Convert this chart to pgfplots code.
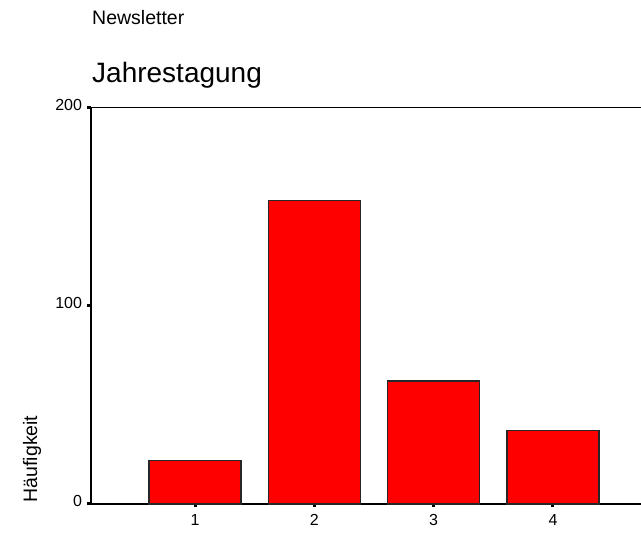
\documentclass[border=0pt]{standalone}
\usepackage{pgfplots}
\pgfplotsset{compat=1.18}
\usepackage{fontspec}
\setmainfont{Liberation Sans}
\begin{document}
\begin{tikzpicture}[x=1pt,y=1pt]
\path[use as bounding box] (0,0) rectangle (641,537);
\node[anchor=base west,inner sep=0pt,font=\fontsize{19.5}{23}\selectfont] at (92,512.5) {Newsletter};
\node[anchor=base west,inner sep=0pt,font=\fontsize{28}{33}\selectfont] at (92,454) {Jahrestagung};
\node[rotate=90,inner sep=0pt,font=\fontsize{19.5}{23}\selectfont] at (32,78) {Häufigkeit};
\begin{axis}[
  at={(91pt,33pt)}, anchor=south west,
  width=550pt, height=396.3pt, scale only axis,
  xmin=0.128, xmax=4.738, ymin=0, ymax=200,
  axis x line*=bottom, axis y line*=left,
  axis line style={-, line width=1.5pt, black},
  xtick={1,2,3,4}, ytick={0,100,200},
  tick align=outside, major tick length=3.5pt,
  tick style={line width=3pt, black},
  ticklabel style={font=\fontsize{16}{19}\selectfont},
  xticklabel style={yshift=-3pt},
  yticklabel style={yshift=3pt, xshift=-2pt},
  /pgf/number format/assume math mode=true,
  clip=false,
]
\addplot[ybar, bar width=0.77, fill={rgb,255:red,255;green,0;blue,0}, draw=black!85, line width=1.3pt]
  coordinates {(1,22) (2,153) (3,62) (4,37)};
\draw[line width=1.5pt, black] (rel axis cs:0,1) -- (rel axis cs:1,1);
\end{axis}
\end{tikzpicture}
\end{document}
